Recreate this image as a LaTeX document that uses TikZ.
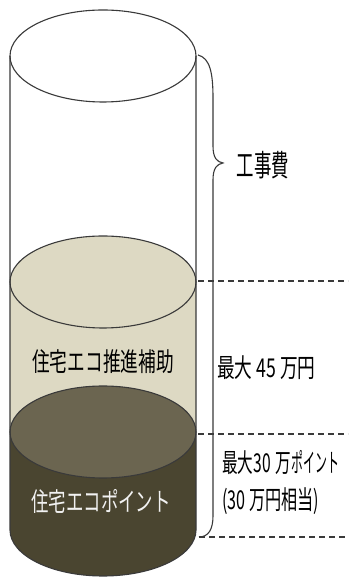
\documentclass[tikz,border=0pt]{standalone}
\usepackage{fontspec}
\usepackage{graphicx}
\newfontfamily\jp{Noto Sans CJK JP}
\newcommand\sqz[2]{\scalebox{#1}[1]{#2}}
\definecolor{beige}{HTML}{DDD9C3}
\definecolor{darktop}{HTML}{6B6550}
\definecolor{darkbody}{HTML}{4A4530}
\definecolor{edge}{HTML}{3A3A3A}
\begin{document}
\begin{tikzpicture}[x=1pt,y=1pt,
  outl/.style={draw=edge,line width=1.1pt},
  dash line/.style={draw=edge,line width=1.1pt,dash pattern=on 6pt off 4pt},
  lab/.style={inner sep=0pt,font=\jp\fontsize{26}{26}\selectfont,text=black},
  ]
\useasboundingbox (0,0) rectangle (348,578);
\fill[white] (0,0) rectangle (348,578);
% beige layer
\fill[beige] (10,296) -- (10,146) -- (196,146) -- (196,296) -- cycle;
% dark layer body
\fill[darkbody] (10,146) -- (10,48) arc[start angle=180,end angle=360,x radius=93,y radius=46] -- (196,146) -- cycle;
% beige top ellipse
\draw[outl,fill=beige] (103,296) ellipse[x radius=93,y radius=46];
% dark top ellipse
\draw[outl,fill=darktop] (103,146) ellipse[x radius=93,y radius=46];
% cylinder outline
\draw[outl] (10,522) -- (10,48) arc[start angle=180,end angle=360,x radius=93,y radius=46] -- (196,522);
\draw[outl] (103,522) ellipse[x radius=93,y radius=46];
% brace
\coordinate (bA) at (198,523);
\coordinate (bTip) at (223,415);
\coordinate (bB) at (199,41);
\draw[draw=edge,line width=1.1pt] (bA) .. controls (210,520) and (213,505) .. (213,480) -- (213,432)
  .. controls (213,420) and (217,416) .. (bTip) .. controls (217,414) and (213,410) .. (213,398)
  -- (213,62) .. controls (213,48) and (208,41) .. (bB);
% dashed lines
\coordinate (d1a) at (198,297); \coordinate (d1b) at (348,297);
\coordinate (d2a) at (198,144); \coordinate (d2b) at (348,144);
\coordinate (d3a) at (199,41);  \coordinate (d3b) at (348,41);
\draw[dash line] (d1a) -- (d1b);
\draw[dash line] (d2a) -- (d2b);
\draw[dash line] (d3a) -- (d3b);
% labels
\node[lab,font=\jp\fontsize{30}{30}\selectfont] (cost) at (263,413) {\sqz{0.58}{工事費}};
\node[lab] (sub) at (103,216) {\sqz{0.68}{住宅エコ推進補助}};
\node[lab,anchor=west] (max45) at (217,210) {\sqz{0.68}{最大 45 万円}};
\node[lab,anchor=west] (max30) at (222,115) {\sqz{0.6}{最大30\,\,万}\sqz{0.46}{ポイント}};
\node[lab,anchor=west] (eq30) at (222,77) {\sqz{0.62}{(30 万円相当)}};
\node[lab,text=white!90!gray] (pts) at (101,77) {\sqz{0.67}{住宅エコポイント}};
\end{tikzpicture}
\end{document}
